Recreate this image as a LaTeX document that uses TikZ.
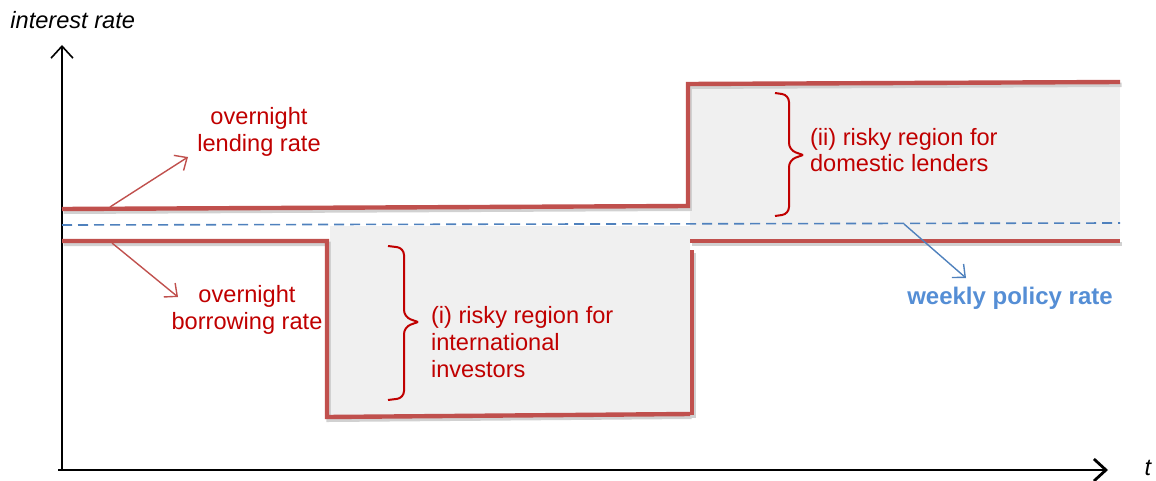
\documentclass[tikz,border=0pt]{standalone}
\usepackage{fontspec}
\setmainfont{Liberation Sans}
\usetikzlibrary{arrows.meta}
\definecolor{ratered}{HTML}{C0504D}
\definecolor{textred}{HTML}{C00000}
\definecolor{policyblue}{HTML}{4F81BD}
\definecolor{labelblue}{HTML}{558ED5}
\definecolor{riskgrey}{HTML}{F0F0F0}
\tikzset{
    rateline/.style={ratered, line width=2.2pt, line join=miter,
        preaction={draw=black!18, line width=2.2pt, transform canvas={xshift=0.8pt,yshift=-1.4pt}}},
    redlabel/.style={textred, font=\fontsize{11.8}{13.4}\selectfont},
    redarrow/.style={ratered, line width=0.7pt, -{Straight Barb[length=5pt,width=9pt]}},
    bluearrow/.style={policyblue, line width=0.7pt, -{Straight Barb[length=5pt,width=9pt]}},
    axisarrow/.style={-{Straight Barb[length=6pt,width=11pt]}},
    riskbrace/.style={textred, line width=1pt, rounded corners=3.5pt}
}
\begin{document}
\begin{tikzpicture}[x=0.5pt,y=-0.5pt]
    \useasboundingbox (0,0) rectangle (1156,481);
    % risky regions
    \fill[riskgrey] (330,226) -- (690,226) -- (690,415) -- (330,417) -- cycle;
    \fill[riskgrey] (690,86) -- (1120,86) -- (1120,240) -- (690,240) -- cycle;
    % axes
    \draw[axisarrow, line width=0.8pt] (62,470) -- (62,45);
    \draw[axisarrow, line width=1.4pt] (58,470) -- (1108,470);
    \node[font=\fontsize{11.8}{13.4}\selectfont\itshape, anchor=west, inner sep=0pt] (ylbl) at (10,20) {interest rate};
    \node[font=\fontsize{11.8}{13.4}\selectfont\itshape, inner sep=0pt] (tlbl) at (1148,468) {t};
    % policy rate
    \draw[policyblue, line width=0.8pt, dash pattern=on 5pt off 3pt] (62,225) -- (1120,223);
    % corridor
    \draw[rateline] (62,209) -- (688,206) -- (688,84) -- (1120,82);
    \draw[rateline] (62,241) -- (327,241) -- (327,417) -- (690,414);
    \draw[rateline] (692,250) -- (692,415);
    \draw[rateline] (690,241) -- (1120,241);
    % labels
    \node[redlabel, align=center] (lendlbl) at (259,132) {overnight\\lending rate};
    \node[redlabel, align=center] (borrowlbl) at (247,310) {overnight\\borrowing rate};
    \node[redlabel, align=left, anchor=west] (risk1) at (424,342) {(i) risky region for\\international\\investors};
    \node[redlabel, align=left, anchor=west] (risk2) at (803,150) {(ii) risky region for\\domestic lenders};
    \node[labelblue, font=\fontsize{12}{13.4}\selectfont\bfseries] (weeklbl) at (1010,298) {weekly policy rate};
    \coordinate (lendfoot) at (110,207);
    \coordinate (lendtip) at (188,157);
    \coordinate (borrowfoot) at (112,243);
    \coordinate (borrowtip) at (178,297);
    \coordinate (weekfoot) at (904,224);
    \coordinate (weektip) at (966,278);
    \draw[redarrow] (lendfoot) -- (lendtip);
    \draw[redarrow] (borrowfoot) -- (borrowtip);
    \draw[bluearrow] (weekfoot) -- (weektip);
    % braces
    \draw[riskbrace] (388,246) -- (404,248) -- (404,317) -- (418,322);
    \draw[riskbrace] (388,400) -- (404,398) -- (404,327) -- (418,322);
    \draw[riskbrace] (775,93) -- (789,95) -- (789,150) -- (803,155);
    \draw[riskbrace] (775,216) -- (789,214) -- (789,160) -- (803,155);
\end{tikzpicture}
\end{document}
